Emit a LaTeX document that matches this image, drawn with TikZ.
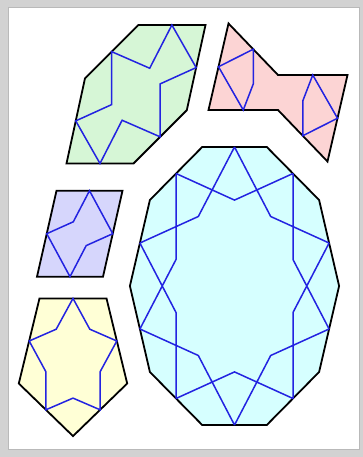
\documentclass[tikz,border=0pt]{standalone}
\usepackage{tikz}

\definecolor{bleu}{RGB}{35,35,225}
\definecolor{vertclair}{RGB}{214,246,214}
\definecolor{roseclair}{RGB}{252,212,212}
\definecolor{mauveclair}{RGB}{214,214,252}
\definecolor{jauneclair}{RGB}{255,255,214}
\definecolor{cyanclair}{RGB}{214,255,255}

\begin{document}
\begin{tikzpicture}[x=1pt,y=-1pt,
  tuile/.style={draw=black,line width=1.8pt},
  motif/.style={draw=bleu,line width=1.5pt}]

% Cadre
\useasboundingbox (0,0) rectangle (363,457);
\fill[gray!35] (0,0) rectangle (363,457);
\fill[white] (8,7) rectangle (359,449);
\draw[gray!55,line width=0.6pt] (8,7) rectangle (359,449);

% Hexagone
\draw[tuile,fill=vertclair]
(138.3,25)
--
(205.5,25)
--
(186.8,110.2)
--
(133.5,163.5)
--
(66.5,163.5)
--
(85,78.3)
--
cycle;

\draw[motif]
(171.9,25)
--
(196.15,67.6)
--
(160.15,83.9)
--
(160.15,136.85)
--
(122.1,120.25)
--
(100,163.5)
--
(75.75,120.9)
--
(111.65,104.6)
--
(111.65,51.65)
--
(149.7,68.25)
--
cycle;

% Noeud papillon
\draw[tuile,fill=roseclair]
(228.5,23.5)
--
(278,75)
--
(347.5,75)
--
(327.5,161.5)
--
(278,110)
--
(208.5,110)
--
cycle;

\draw[motif]
(218.5,66.75)
--
(253.25,49.25)
--
(253.25,84)
--
(243.25,110)
--
cycle;

\draw[motif]
(337.5,118.25)
--
(302.75,135.75)
--
(302.75,101)
--
(312.75,75)
--
cycle;

% Losange
\draw[tuile,fill=mauveclair]
(56.5,190.7)
--
(122.5,190.7)
--
(103,276.7)
--
(37,276.7)
--
cycle;

\draw[motif]
(89.5,190.7)
--
(112.75,233.7)
--
(86.2,245.6)
--
(70,276.7)
--
(46.75,233.7)
--
(73.3,221.8)
--
cycle;

% Pentagone
\draw[tuile,fill=jauneclair]
(73,436.1)
--
(127.2,383.5)
--
(106.5,298.4)
--
(39.5,298.4)
--
(18.8,383.5)
--
cycle;

\draw[motif]
(73,298.4)
--
(89.8,329.2)
--
(116.8,341)
--
(100.1,371.8)
--
(100.1,409.8)
--
(73,398.1)
--
(45.9,409.8)
--
(45.9,371.8)
--
(29.2,341)
--
(56.2,329.2)
--
cycle;

% Décagone
\draw[tuile,fill=cyanclair]
(339.1,286)
--
(319.1,200)
--
(266.8,147)
--
(202.2,147)
--
(149.9,200)
--
(129.9,286)
--
(149.9,372)
--
(202.2,425)
--
(266.8,425)
--
(319.1,372)
--
cycle;

\draw[motif]
(234.5,147) -- (198.3,216.5) -- (139.9,243)
(176,173.5) -- (176,259.5) -- (139.9,329)
(139.9,243) -- (176,312.5) -- (176,398.5)
(139.9,329) -- (198.3,355.5) -- (234.5,425)
(176,398.5) -- (234.5,371.9) -- (293,398.5)
(234.5,425) -- (270.7,355.5) -- (329.1,329)
(293,398.5) -- (293,312.5) -- (329.1,243)
(329.1,329) -- (293,259.5) -- (293,173.5)
(329.1,243) -- (270.7,216.5) -- (234.5,147)
(293,173.5) -- (234.5,200.1) -- (176,173.5);

\end{tikzpicture}
\end{document}
